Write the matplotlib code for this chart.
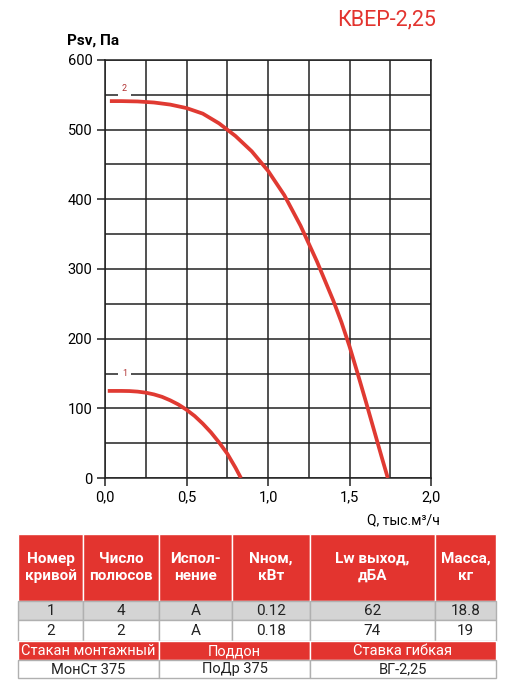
import matplotlib
matplotlib.use("Agg")
import matplotlib.pyplot as plt
from matplotlib.patches import Rectangle

FONT = ['Liberation Sans Narrow', 'Roboto', 'DejaVu Sans']
plt.rcParams['font.family'] = FONT

RED = '#e3342f'
CURVE = '#e03a32'

title = "КВЕР-2,25"
ylabel = "Psv, Па"
xlabel = "Q, тыс.м³/ч"

q1 = [0.017, 0.1, 0.15, 0.2, 0.25, 0.3, 0.35, 0.4, 0.45, 0.5, 0.55, 0.6, 0.65, 0.7, 0.75, 0.8, 0.834]
p1 = [125, 125, 124.8, 124, 122.5, 120, 116.5, 111.5, 105.5, 98, 89, 78, 65.5, 51, 35, 15, 0]
q2 = [0.03, 0.1, 0.2, 0.3, 0.4, 0.5, 0.6, 0.7, 0.8, 0.9, 1.0, 1.1, 1.2, 1.3, 1.4, 1.45, 1.5, 1.55, 1.6, 1.65, 1.7, 1.735]
p2 = [541, 541, 540.5, 539, 536, 531, 523, 509, 491, 469, 441, 406, 362, 311, 255, 224, 189, 150, 110, 69, 28, 0]
curve_labels = ["1", "2"]
label_pos = [(0.12, 150), (0.12, 559)]

xticks = [0.0, 0.5, 1.0, 1.5, 2.0]
xticklabels = ["0,0", "0,5", "1,0", "1,5", "2,0"]
yticks = [0, 100, 200, 300, 400, 500, 600]

header = ["Номер\nкривой", "Число\nполюсов", "Испол-\nнение", "Nном,\nкВт", "Lw выход,\nдБА", "Масса,\nкг"]
rows = [["1", "4", "A", "0.12", "62", "18.8"],
        ["2", "2", "A", "0.18", "74", "19"]]
acc_titles = ["Стакан монтажный", "Поддон", "Ставка гибкая"]
acc_values = ["МонСт 375", "ПоДр 375", "ВГ-2,25"]

W, H = 523, 700
fig = plt.figure(figsize=(W / 100, H / 100), dpi=100)

ax = fig.add_axes([105 / W, 1 - 478 / H, 326 / W, 418 / H])
ax.set_xlim(0, 2)
ax.set_ylim(0, 600)
ax.set_xticks(xticks)
ax.set_xticklabels(xticklabels)
ax.set_yticks(yticks)
ax.set_xticks([i * 0.25 for i in range(9)], minor=True)
ax.set_yticks([i * 50 for i in range(13)], minor=True)
ax.grid(which='both', color='#222222', lw=1.1)
ax.tick_params(which='minor', length=0)
ax.tick_params(which='major', length=6, width=1.1, color='#222222', labelsize=10.5, pad=3)
for s in ax.spines.values():
    s.set_color('#222222')
    s.set_linewidth(1.1)
ax.set_axisbelow(True)

ax.plot(q1, p1, color=CURVE, lw=2.7, solid_capstyle='butt', solid_joinstyle='round', zorder=3)
ax.plot(q2, p2, color=CURVE, lw=2.7, solid_capstyle='butt', solid_joinstyle='round', zorder=3)
for lab, (x, y) in zip(curve_labels, label_pos):
    ax.text(x, y, lab, color='#b03030', fontsize=6.5, ha='center', va='center', zorder=4,
            bbox=dict(boxstyle='square,pad=0.45', fc='white', ec='none'))

fig.text(67 / W, 1 - 41 / H, ylabel, fontsize=11, fontweight='bold', ha='left', va='center')
fig.text(436 / W, 1 - 20 / H, title, fontsize=15.5, color=RED, ha='right', va='center')
fig.text(440 / W, 1 - 520 / H, xlabel, fontsize=10, ha='right', va='center')

# table
tax = fig.add_axes([0, 0, 1, 1])
tax.set_xlim(0, W)
tax.set_ylim(H, 0)
tax.axis('off')

cols = [18, 83, 159, 232, 310, 435, 496]
ys = [534, 601, 620, 641, 660, 678]

for i in range(6):
    x0, x1 = cols[i], cols[i + 1]
    tax.add_patch(Rectangle((x0, ys[0]), x1 - x0, ys[1] - ys[0], fc=RED, ec='white', lw=1))
    tax.text((x0 + x1) / 2, (ys[0] + ys[1]) / 2, header[i], color='white', fontsize=11,
             fontweight='bold', ha='center', va='center', linespacing=1.3)
    for r, row in enumerate(rows):
        fc = '#d4d4d4' if r == 0 else 'white'
        tax.add_patch(Rectangle((x0, ys[1 + r]), x1 - x0, ys[2 + r] - ys[1 + r], fc=fc, ec='#b0b0b0', lw=1))
        tax.text((x0 + x1) / 2, (ys[1 + r] + ys[2 + r]) / 2 + 0.5, row[i], color='#222222',
                 fontsize=11, ha='center', va='center')

spans = [(cols[0], cols[2]), (cols[2], cols[4]), (cols[4], cols[6])]
for j, (x0, x1) in enumerate(spans):
    tax.add_patch(Rectangle((x0, ys[3]), x1 - x0, ys[4] - ys[3], fc=RED, ec='white', lw=1))
    tax.text((x0 + x1) / 2, (ys[3] + ys[4]) / 2 + 0.5, acc_titles[j], color='white',
             fontsize=10.5, ha='center', va='center')
    tax.add_patch(Rectangle((x0, ys[4]), x1 - x0, ys[5] - ys[4], fc='white', ec='#b0b0b0', lw=1))
    tax.text((x0 + x1) / 2, (ys[4] + ys[5]) / 2 + 0.5, acc_values[j], color='#222222',
             fontsize=10.5, ha='center', va='center')

fig.savefig("out.png", dpi=100)
